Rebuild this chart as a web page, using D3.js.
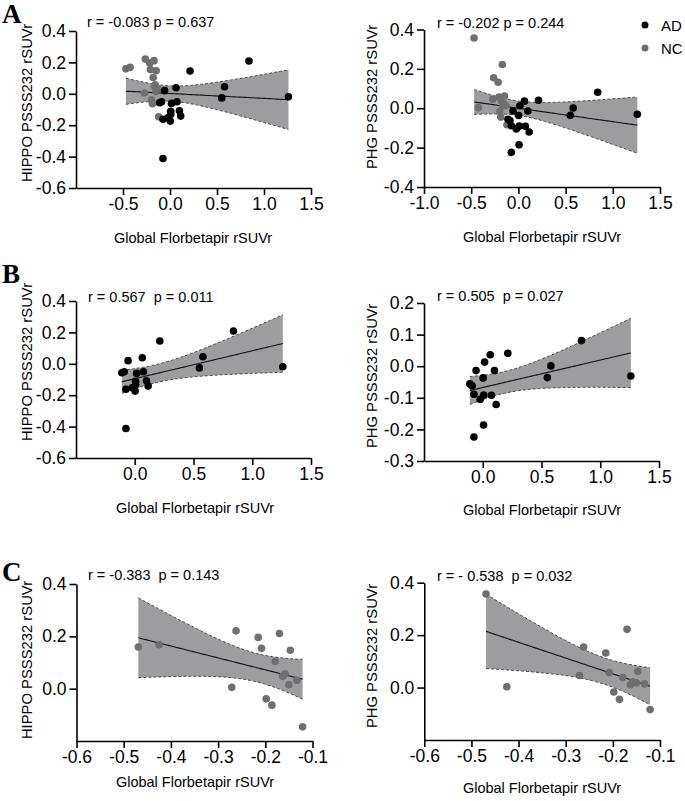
<!DOCTYPE html>
<html><head><meta charset="utf-8">
<script src="https://cdn.jsdelivr.net/npm/d3@7"></script>
<style>
body{margin:0;background:#fff}
svg text{fill:#000}
</style>
</head><body>
<svg id="c" width="685" height="801"></svg>
<script>
// ---- data ----
const adX     = [-0.11,-0.09,-0.075,-0.075,-0.057,-0.022,0.003,0.007,0.008,0.016,0.064,0.074,0.10,0.114,0.213,0.55,0.58,0.84,1.26];
const adHippo = [-0.057,-0.051,-0.162,-0.412,0.020,-0.153,-0.174,-0.111,-0.130,-0.061,0.039,-0.051,-0.108,-0.142,0.145,-0.026,0.045,0.209,-0.019];
const adPhg   = [-0.056,-0.062,-0.089,-0.224,-0.014,-0.105,-0.037,-0.186,-0.091,0.013,0.036,-0.092,-0.014,-0.121,0.041,-0.036,0.001,0.081,-0.031];
const ncX     = [-0.469,-0.425,-0.271,-0.262,-0.215,-0.208,-0.170,-0.179,-0.198,-0.186,-0.147,-0.158,-0.163,-0.150,-0.133,-0.121];
const ncHippo = [0.159,0.168,0.005,0.221,0.196,0.154,0.211,0.104,-0.039,-0.063,0.147,0.057,0.047,0.015,0.032,-0.146];
const ncPhg   = [0.357,0.003,0.046,0.155,0.132,0.057,0.222,0.038,-0.017,-0.045,0.062,0.022,0.011,0.018,0.014,-0.084];

const ticksXA = [-0.5,0,0.5,1,1.5];
const ticksXA2 = [-1,-0.5,0,0.5,1,1.5];
const ticksXB = [0,0.5,1,1.5];
const ticksXC = [-0.6,-0.5,-0.4,-0.3,-0.2,-0.1];
const ticksYHippo = [-0.6,-0.4,-0.2,0,0.2,0.4];
const ticksYPhgA = [-0.4,-0.2,0,0.2,0.4];
const ticksYPhgB = [-0.3,-0.2,-0.1,0,0.1,0.2];
const ticksYC = [0,0.2,0.4];
const annotations = ["r = -0.083 p = 0.637","r = -0.202 p = 0.244","r = 0.567  p = 0.011","r = 0.505  p = 0.027","r = -0.383  p = 0.143","r = - 0.538  p = 0.032"];
const legendLabels = ["AD","NC"];
const panelLetters = ["A","B","C"];
const xTitle = "Global Florbetapir rSUVr";
const yTitles = ["HIPPO PSSS232 rSUVr","PHG PSSS232 rSUVr"];

const COL_AD = "#000000", COL_NC = "#6f6f6f";
const SANS = "Arial, 'Liberation Sans', Helvetica, sans-serif";
const SERIF = "'Liberation Serif', 'Times New Roman', serif";

// ---- panel layout ----
const panels = [
 {xd:[-1,1.5], xr:[76,311], yd:[-0.6,0.4], yr:[188,31], xt:ticksXA, yt:ticksYHippo,
  groups:[[ncX,ncHippo,COL_NC],[adX,adHippo,COL_AD]], yTitle:yTitles[0], yT:[27,103], xT:[193,238], ann:annotations[0], annP:[87,22]},
 {xd:[-1,1.5], xr:[424,660], yd:[-0.4,0.4], yr:[187,29.5], xt:ticksXA2, yt:ticksYPhgA,
  groups:[[ncX,ncPhg,COL_NC],[adX,adPhg,COL_AD]], yTitle:yTitles[1], yT:[372,97], xT:[542,237], ann:annotations[1], annP:[437,23]},
 {xd:[-0.5,1.5], xr:[76,311], yd:[-0.6,0.4], yr:[458,301], xt:ticksXB, yt:ticksYHippo,
  groups:[[adX,adHippo,COL_AD]], yTitle:yTitles[0], yT:[27,362], xT:[195,508], ann:annotations[2], annP:[88,297]},
 {xd:[-0.5,1.5], xr:[424,659], yd:[-0.3,0.2], yr:[461,303], xt:ticksXB, yt:ticksYPhgB,
  groups:[[adX,adPhg,COL_AD]], yTitle:yTitles[1], yT:[372,376], xT:[542,510], ann:annotations[3], annP:[437,296]},
 {xd:[-0.6,-0.1], xr:[76.5,312.5], yd:[-0.2,0.4], yr:[741,584], xt:ticksXC, yt:ticksYC,
  groups:[[ncX,ncHippo,COL_NC]], yTitle:yTitles[0], yT:[27,660], xT:[195,782], ann:annotations[4], annP:[88,575]},
 {xd:[-0.6,-0.1], xr:[424.3,660], yd:[-0.2,0.4], yr:[740,582.7], xt:ticksXC, yt:ticksYC,
  groups:[[ncX,ncPhg,COL_NC]], yTitle:yTitles[1], yT:[372,656], xT:[542,788], ann:annotations[5], annP:[437,576]}
];

const svg = d3.select("#c");
const fmt = d => d.toFixed(1);

function tCrit(df){const z=1.959964;return z+(z**3+z)/(4*df)+(5*z**5+16*z**3+3*z)/(96*df*df);}
function fit(xs,ys){
  const n=xs.length, mx=d3.mean(xs), my=d3.mean(ys);
  let sxx=0,sxy=0; for(let i=0;i<n;i++){sxx+=(xs[i]-mx)**2;sxy+=(xs[i]-mx)*(ys[i]-my);}
  const b=sxy/sxx, a=my-b*mx;
  let sse=0; for(let i=0;i<n;i++){sse+=(ys[i]-a-b*xs[i])**2;}
  const s=Math.sqrt(sse/(n-2)), t=tCrit(n-2);
  return {n,mx,sxx,a,b,s,t,min:d3.min(xs),max:d3.max(xs)};
}

panels.forEach(p=>{
  const g = svg.append("g");
  const x = d3.scaleLinear().domain(p.xd).range(p.xr);
  const y = d3.scaleLinear().domain(p.yd).range(p.yr);
  const xs = [].concat(...p.groups.map(gr=>gr[0]));
  const ys = [].concat(...p.groups.map(gr=>gr[1]));
  const f = fit(xs,ys);
  const samples = d3.range(0,61).map(i=>f.min+(f.max-f.min)*i/60);
  const band = samples.map(v=>{
    const yh=f.a+f.b*v, se=f.s*Math.sqrt(1/f.n+(v-f.mx)**2/f.sxx);
    return {v,yh,lo:yh-f.t*se,hi:yh+f.t*se};
  });
  g.append("path").datum(band)
    .attr("d", d3.area().x(d=>x(d.v)).y0(d=>y(d.lo)).y1(d=>y(d.hi)))
    .attr("fill","#9d9da0");
  ["lo","hi"].forEach(k=>{
    g.append("path").datum(band)
      .attr("d", d3.line().x(d=>x(d.v)).y(d=>y(d[k])))
      .attr("fill","none").attr("stroke","#4a4a4a").attr("stroke-width",1).attr("stroke-dasharray","3,2");
  });
  g.append("path").datum(band)
    .attr("d", d3.line().x(d=>x(d.v)).y(d=>y(d.yh)))
    .attr("fill","none").attr("stroke","#111").attr("stroke-width",1.1);

  p.groups.forEach(gr=>{
    g.append("g").selectAll("circle").data(gr[0].map((v,i)=>[v,gr[1][i]])).join("circle")
      .attr("cx",d=>x(d[0])).attr("cy",d=>y(d[1])).attr("r",3.8).attr("fill",gr[2]);
  });

  const xa = g.append("g").attr("transform",`translate(0,${p.yr[0]})`)
    .call(d3.axisBottom(x).tickValues(p.xt).tickFormat(fmt).tickSize(7).tickSizeOuter(0).tickPadding(3));
  const ya = g.append("g").attr("transform",`translate(${p.xr[0]},0)`)
    .call(d3.axisLeft(y).tickValues(p.yt).tickFormat(fmt).tickSize(7).tickSizeOuter(0).tickPadding(3));
  [xa,ya].forEach(a=>{
    a.select(".domain").attr("stroke","#000").attr("stroke-width",1.6);
    a.selectAll(".tick line").attr("stroke","#000").attr("stroke-width",1.6);
    a.selectAll(".tick text").style("font-size","17.5px").style("font-family",SANS).attr("fill","#000");
  });

  g.append("text").attr("x",p.xT[0]).attr("y",p.xT[1]).attr("text-anchor","middle")
    .attr("dominant-baseline","central").style("font-family",SANS).style("font-size","14.5px").text(xTitle);
  g.append("text").attr("transform",`translate(${p.yT[0]},${p.yT[1]}) rotate(-90)`)
    .attr("text-anchor","middle").attr("dominant-baseline","central").style("font-family",SANS).style("font-size","14.8px").text(p.yTitle);
  g.append("text").attr("x",p.annP[0]).attr("y",p.annP[1]).attr("dominant-baseline","central")
    .style("font-family",SANS).style("font-size","14.5px").style("white-space","pre").text(p.ann);
});

// panel letters
const letterY = [23,283,581];
panelLetters.forEach((l,i)=>{
  svg.append("text").attr("x",2).attr("y",letterY[i])
    .style("font-size","27px").style("font-weight","bold").style("font-family",SERIF).text(l);
});

// legend
const legCols = [COL_AD, COL_NC];
legendLabels.forEach((l,i)=>{
  const yy = 25 + i*23;
  svg.append("circle").attr("cx",645).attr("cy",yy).attr("r",3.5).attr("fill",legCols[i]);
  svg.append("text").attr("x",661).attr("y",yy).attr("dominant-baseline","central")
    .style("font-family",SANS).style("font-size","15px").text(l);
});
</script>
</body></html>
